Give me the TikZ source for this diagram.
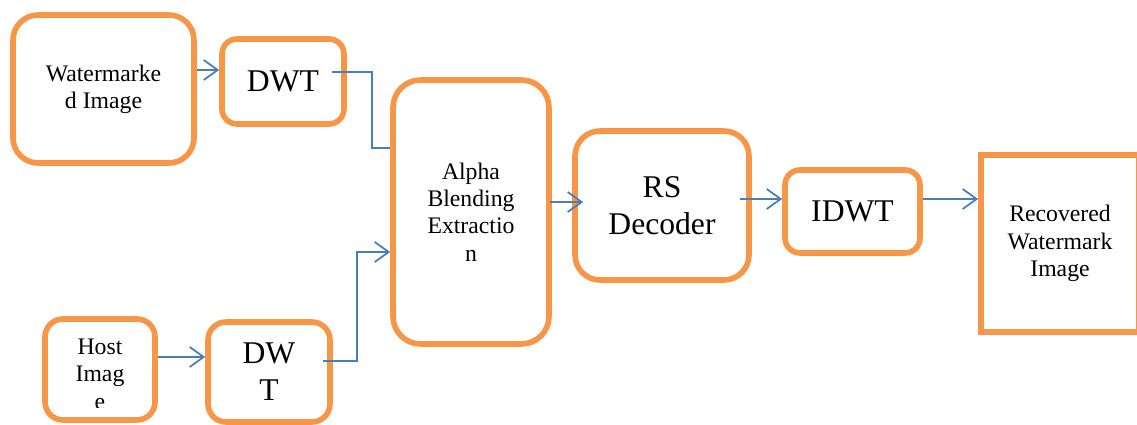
\documentclass[tikz,border=0pt]{standalone}
\usepackage{fontspec}
\setmainfont{Liberation Serif}
\usepackage{tikz}
\usetikzlibrary{arrows.meta}
\definecolor{boxorange}{HTML}{F79646}
\definecolor{linkblue}{HTML}{4A7EBB}
\tikzstyle{block} = [rectangle, draw=boxorange, line width=3.2pt, fill=white, align=center, font=\fontsize{13.5}{15.5}\selectfont]
\tikzstyle{bigblock} = [block, font=\fontsize{18}{21}\selectfont]
\tikzstyle{link} = [draw=linkblue, line width=1pt]
\tikzstyle{arrow} = [link, -{Straight Barb[length=0.28cm, width=0.4cm]}]

\begin{document}
\begin{tikzpicture}[x=0.02cm, y=-0.02cm]
	\useasboundingbox (0,0) rectangle (1137,425);
	\clip (0,0) rectangle (1137,425);
	% Nodes
	\node (wmimg) [block, minimum width=3.62cm, minimum height=2.96cm, rounded corners=0.5cm] at (103.5,89) {Watermarke\\d Image};
	\node (dwtA) [bigblock, minimum width=2.44cm, minimum height=1.7cm, rounded corners=0.3cm] at (283,81.5) {DWT};
	\node (host) [block, minimum width=2.2cm, minimum height=2.02cm, rounded corners=0.36cm] at (100,369.5) {};
	\begin{scope}
		\clip (host.north west) rectangle ([yshift=0.3cm]host.south east);
		\node (hosttext) [align=center, font=\fontsize{13.5}{15.5}\selectfont, anchor=north] at (100,333) {Host\\Imag\\e};
	\end{scope}
	\node (dwtB) [bigblock, minimum width=2.44cm, minimum height=2cm, rounded corners=0.36cm] at (269,372) {DW\\T};
	\node (alpha) [block, minimum width=3.12cm, minimum height=5.28cm, rounded corners=0.55cm] at (471,212) {Alpha\\Blending\\Extractio\\n};
	\node (rsdec) [bigblock, minimum width=3.48cm, minimum height=2.98cm, rounded corners=0.5cm] at (662,205.5) {RS\\Decoder};
	\node (idwt) [bigblock, minimum width=2.7cm, minimum height=1.66cm, rounded corners=0.3cm] at (852.5,211.5) {IDWT};
	\node (recov) [block, minimum width=3.16cm, minimum height=3.54cm] at (1060,243.5) {Recovered\\Watermark\\Image};
	
	% Arrows
	\coordinate (bendA) at (372,148);
	\coordinate (bendB) at (357,252);
	\draw [arrow] ([yshift=0.38cm]wmimg.east) -- ([yshift=0.38cm]wmimg.east -| dwtA.west);
	\draw [link] ([xshift=-0.3cm, yshift=0.19cm]dwtA.east) -| (bendA) -- (bendA -| alpha.west);
	\draw [arrow] ([yshift=0.25cm]host.east) -- ([yshift=0.25cm]host.east -| dwtB.west);
	\draw [arrow] ([xshift=-0.2cm, yshift=0.22cm]dwtB.east) -| (bendB) -- (bendB -| alpha.west);
	\draw [arrow] ([xshift=-0.04cm, yshift=0.2cm]alpha.east) -- ([xshift=0.22cm, yshift=0.2cm]alpha.east -| rsdec.west);
	\draw [arrow] ([xshift=-0.24cm, yshift=0.25cm]idwt.west -| rsdec.east) -- ([yshift=0.25cm]idwt.west);
	\draw [arrow] ([yshift=0.25cm]idwt.east) -- ([yshift=0.25cm]idwt.east -| recov.west);
\end{tikzpicture}
\end{document}
